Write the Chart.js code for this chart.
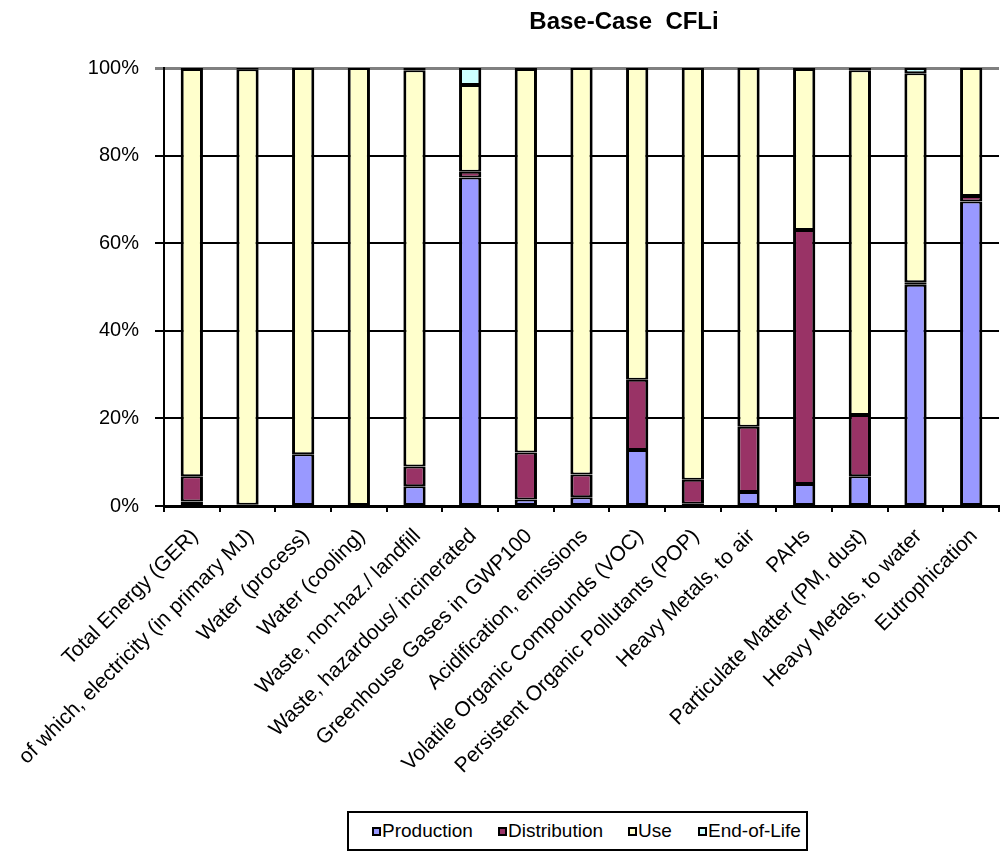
<!DOCTYPE html>
<html>
<head>
<meta charset="utf-8">
<title>Base-Case CFLi</title>
<script src="https://cdn.jsdelivr.net/npm/chart.js@4.4.0/dist/chart.umd.min.js"></script>
<style>
    html, body { margin: 0; padding: 0; background: #fff; }
    body { font-family: 'Liberation Sans', Arial, sans-serif; }
    #wrap { position: relative; width: 1001px; height: 856px; overflow: hidden; }
    #title {
        position: absolute; left: 624px; top: 9px; transform: translateX(-50%);
        font-size: 24px; font-weight: bold; line-height: 24px; white-space: pre; color: #000;
    }
    #legend {
        position: absolute; left: 347px; top: 811px; width: 457px; height: 36px;
        border: 2px solid #000; background: #fff;
        font-size: 19px; color: #000;
    }
    .item { position: absolute; top: 0; height: 36px; display: flex; align-items: center; white-space: nowrap; }
    .swatch { width: 5px; height: 5px; border: 2px solid #000; margin-right: 1px; }
</style>
</head>
<body>
<div id="wrap">
    <canvas id="chart" width="1001" height="856"></canvas>
    <div id="title">Base-Case  CFLi</div>
    <div id="legend"></div>
</div>
<script>
// --- Data (percent of total impact, per life-cycle phase) ---
const categories = [
    'Total Energy (GER)',
    'of which, electricity (in primary MJ)',
    'Water (process)',
    'Water (cooling)',
    'Waste, non-haz./ landfill',
    'Waste, hazardous/ incinerated',
    'Greenhouse Gases in GWP100',
    'Acidification, emissions',
    'Volatile Organic Compounds (VOC)',
    'Persistent Organic Pollutants (POP)',
    'Heavy Metals, to air',
    'PAHs',
    'Particulate Matter (PM, dust)',
    'Heavy Metals, to water',
    'Eutrophication'
];
const production   = [1.0, 0.1, 11.8, 0, 4.5, 75.0, 1.5, 2.0, 12.8, 0.5, 3.2, 5.0, 6.8, 50.5, 69.5];
const distribution = [5.8, 0.2, 0, 0, 4.5, 1.3, 10.7, 5.2, 16.0, 5.5, 14.9, 58.0, 14.0, 0.6, 1.3];
const use          = [93.0, 99.4, 88.2, 100, 90.5, 19.8, 87.6, 92.8, 71.2, 94.0, 81.9, 36.8, 78.7, 47.7, 29.2];
const endOfLife    = [0.2, 0.3, 0, 0, 0.5, 3.9, 0.2, 0, 0, 0, 0, 0.2, 0.5, 1.2, 0];
const yTicks = [0, 20, 40, 60, 80, 100];

const FONT = "'Liberation Sans', Arial, sans-serif";

const series = [
    { label: 'Production', data: production, color: '#9999FF' },
    { label: 'Distribution', data: distribution, color: '#993366' },
    { label: 'Use', data: use, color: '#FFFFCC' },
    { label: 'End-of-Life', data: endOfLife, color: '#CCFFFF' }
];
// legend entry offsets inside the box (px from its left edge)
const legendOffsets = [23, 149, 279, 349];

// --- Legend (HTML, boxed like the original) ---
const legendEl = document.getElementById('legend');
series.forEach((s, i) => {
    const item = document.createElement('div');
    item.className = 'item';
    item.style.left = legendOffsets[i] + 'px';
    item.innerHTML = `<span class="swatch" style="background:${s.color}"></span><span>${s.label}</span>`;
    legendEl.appendChild(item);
});

// --- Chart ---
new Chart(document.getElementById('chart'), {
    type: 'bar',
    data: {
        labels: categories,
        datasets: series.map(s => ({
            label: s.label,
            data: s.data,
            backgroundColor: s.color,
            borderColor: '#000',
            borderWidth: { top: 2, bottom: 2, left: 3, right: 3 },
            borderSkipped: false,
            inflateAmount: 0,
            categoryPercentage: 1,
            barPercentage: 0.4
        }))
    },
    options: {
        responsive: false,
        animation: false,
        layout: { padding: { top: 68, left: 0, right: 0, bottom: 0 } },
        plugins: {
            legend: { display: false },
            title: { display: false },
            tooltip: { enabled: false }
        },
        scales: {
            x: {
                stacked: true,
                afterFit: (scale) => { scale.height = 350; },
                grid: {
                    drawOnChartArea: false,
                    drawTicks: true,
                    tickLength: 6,
                    color: '#000',
                    lineWidth: 2
                },
                border: { display: true, color: '#000', width: 3 },
                ticks: {
                    autoSkip: false,
                    minRotation: 45,
                    maxRotation: 45,
                    padding: 12,
                    labelOffset: 3,
                    color: '#000',
                    font: { family: FONT, size: 21 }
                }
            },
            y: {
                stacked: true,
                min: 0,
                max: 100,
                afterFit: (scale) => { scale.width = 164; },
                afterBuildTicks: (scale) => {
                    scale.ticks = yTicks.map(v => ({ value: v }));
                },
                grid: {
                    drawTicks: true,
                    tickLength: 9,
                    color: (ctx) => (ctx.tick && ctx.tick.value === 100) ? '#808080' : '#000',
                    lineWidth: (ctx) => (ctx.tick && ctx.tick.value === 100) ? 3 : 2
                },
                border: { display: true, color: '#000', width: 2 },
                ticks: {
                    padding: 16,
                    color: '#000',
                    font: { family: FONT, size: 20 },
                    callback: (v) => v + '%'
                }
            }
        }
    }
});
</script>
</body>
</html>
